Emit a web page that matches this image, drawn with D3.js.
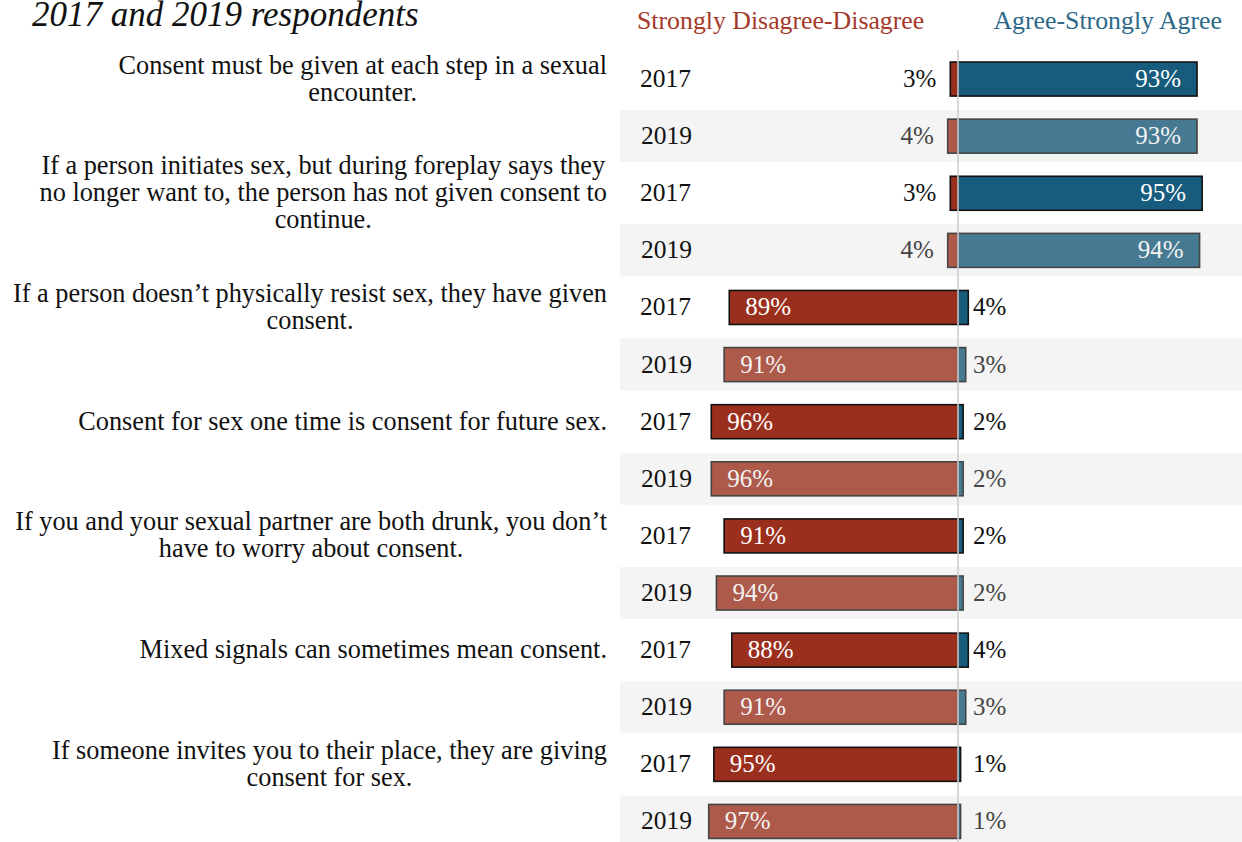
<!DOCTYPE html>
<html>
<head>
<meta charset="utf-8">
<script src="https://cdn.jsdelivr.net/npm/d3@7"></script>
<style>
  html, body { margin: 0; padding: 0; background: #fff; }
  svg { display: block; }
  text { font-family: "Liberation Serif", "DejaVu Serif", serif; }
</style>
</head>
<body>
<svg id="chart" width="1242" height="842"></svg>
<script>
// Survey statements (one per pair of rows)
const statements = [
  ["Consent must be given at each step in a sexual", "encounter."],
  ["If a person initiates sex, but during foreplay says they", "no longer want to, the person has not given consent to", "continue."],
  ["If a person doesn\u2019t physically resist sex, they have given", "consent."],
  ["Consent for sex one time is consent for future sex."],
  ["If you and your sexual partner are both drunk, you don\u2019t", "have to worry about consent."],
  ["Mixed signals can sometimes mean consent."],
  ["If someone invites you to their place, they are giving", "consent for sex."]
];
const years = ["2017", "2019"];

// Percent answering Strongly Disagree-Disagree, per statement, per year
const disagree2017 = [3, 3, 89, 96, 91, 88, 95];
const disagree2019 = [4, 4, 91, 96, 94, 91, 97];
// Percent answering Agree-Strongly Agree
const agree2017 = [93, 95, 4, 2, 2, 4, 1];
const agree2019 = [93, 94, 3, 2, 2, 3, 1];

const headerLabels = ["Strongly Disagree-Disagree", "Agree-Strongly Agree"];
const titleText = "2017 and 2019 respondents";

// Flatten into one row per statement/year
const rows = [];
statements.forEach((s, i) => {
  rows.push({ q: i, year: years[0], dis: disagree2017[i], agr: agree2017[i] });
  rows.push({ q: i, year: years[1], dis: disagree2019[i], agr: agree2019[i] });
});
rows.forEach((r, i) => { r.i = i; });

const colors = {
  "2017": { dis: "#9b2f1e", agr: "#175c7c", stroke: "#111", label: "#111", inner: "#fff" },
  "2019": { dis: "#ad5a4a", agr: "#467a93", stroke: "#444", label: "#444", inner: "#f3f3f3" }
};

const svg = d3.select("#chart");
const W = 1242;

const y = d3.scaleBand()
  .domain(d3.range(rows.length))
  .range([50.5, 850])
  .paddingInner(0);
const cy = i => y(i) + y.bandwidth() / 2;

const x = d3.scaleLinear().domain([-100, 100]).range([701, 1215]);
const x0 = x(0);
const barH = 34;
const numFont = 25;

// Shaded background bands behind 2019 rows
svg.append("g").selectAll("rect")
  .data(rows.filter(r => r.year === "2019"))
  .join("rect")
  .attr("x", 620)
  .attr("width", W - 620)
  .attr("y", d => cy(d.i) - 26)
  .attr("height", 52)
  .attr("fill", "#f4f4f4");

// Title
svg.append("text")
  .attr("x", 32).attr("y", 26)
  .attr("font-style", "italic")
  .attr("font-size", 35)
  .attr("fill", "#111")
  .text(titleText);

// Column headers
svg.append("text")
  .attr("x", 637).attr("y", 29)
  .attr("font-size", 25.8)
  .attr("fill", "#a5392a")
  .text(headerLabels[0]);
svg.append("text")
  .attr("x", 1222).attr("y", 29)
  .attr("text-anchor", "end")
  .attr("font-size", 25.8)
  .attr("fill", "#2c6988")
  .text(headerLabels[1]);

// Statements, centred on the 2017 row of each pair, right edge at the gutter
const qLine = 27;
const qg = svg.append("g").attr("font-size", 26.3).attr("fill", "#111");
statements.forEach((lines, i) => {
  const c = cy(i * 2);
  const texts = qg.append("g").selectAll("text").data(lines).join("text")
    .attr("y", (d, k) => c + (k - (lines.length - 1) / 2) * qLine + 8)
    .attr("text-anchor", "middle")
    .text(d => d);
  const wMax = d3.max(texts.nodes(), n => n.getComputedTextLength());
  texts.attr("x", 607 - wMax / 2);
});

// Year labels
svg.append("g").selectAll("text")
  .data(rows)
  .join("text")
  .attr("x", d => d.year === "2017" ? 640 : 641)
  .attr("y", d => cy(d.i) + 8)
  .attr("font-size", 25.5)
  .attr("fill", "#111")
  .text(d => d.year);

const rowG = svg.append("g").selectAll("g")
  .data(rows)
  .join("g")
  .attr("transform", d => `translate(0,${cy(d.i)})`);

// Disagree bars (extend left of centre)
rowG.append("rect")
  .attr("x", d => x(-d.dis))
  .attr("width", d => x0 - x(-d.dis))
  .attr("y", -barH / 2).attr("height", barH)
  .attr("fill", d => colors[d.year].dis)
  .attr("stroke", d => colors[d.year].stroke)
  .attr("stroke-width", 1.6);

// Agree bars (extend right of centre)
rowG.append("rect")
  .attr("x", x0)
  .attr("width", d => x(d.agr) - x0)
  .attr("y", -barH / 2).attr("height", barH)
  .attr("fill", d => colors[d.year].agr)
  .attr("stroke", d => colors[d.year].stroke)
  .attr("stroke-width", 1.6);

const fmt = v => v + "%";

// Disagree value labels: inside the bar when it dominates, else to its left
rowG.append("text")
  .attr("y", 8)
  .attr("font-size", numFont)
  .each(function (d) {
    const t = d3.select(this);
    if (d.dis > d.agr) {
      t.attr("x", x(-d.dis) + 16).attr("text-anchor", "start").attr("fill", colors[d.year].inner);
    } else {
      t.attr("x", x(-d.dis) - 14).attr("text-anchor", "end").attr("fill", colors[d.year].label);
    }
  })
  .text(d => fmt(d.dis));

// Agree value labels: inside the bar when it dominates, else right of centre
rowG.append("text")
  .attr("y", 8)
  .attr("font-size", numFont)
  .each(function (d) {
    const t = d3.select(this);
    if (d.agr > d.dis) {
      t.attr("x", x(d.agr) - 16).attr("text-anchor", "end").attr("fill", colors[d.year].inner);
    } else {
      t.attr("x", x0 + 15).attr("text-anchor", "start").attr("fill", colors[d.year].label);
    }
  })
  .text(d => fmt(d.agr));

// Zero line drawn over the bars
svg.append("line")
  .attr("x1", x0).attr("x2", x0)
  .attr("y1", 50).attr("y2", 842)
  .attr("stroke", "#cfcfcf")
  .attr("stroke-width", 1.6);
</script>
</body>
</html>
